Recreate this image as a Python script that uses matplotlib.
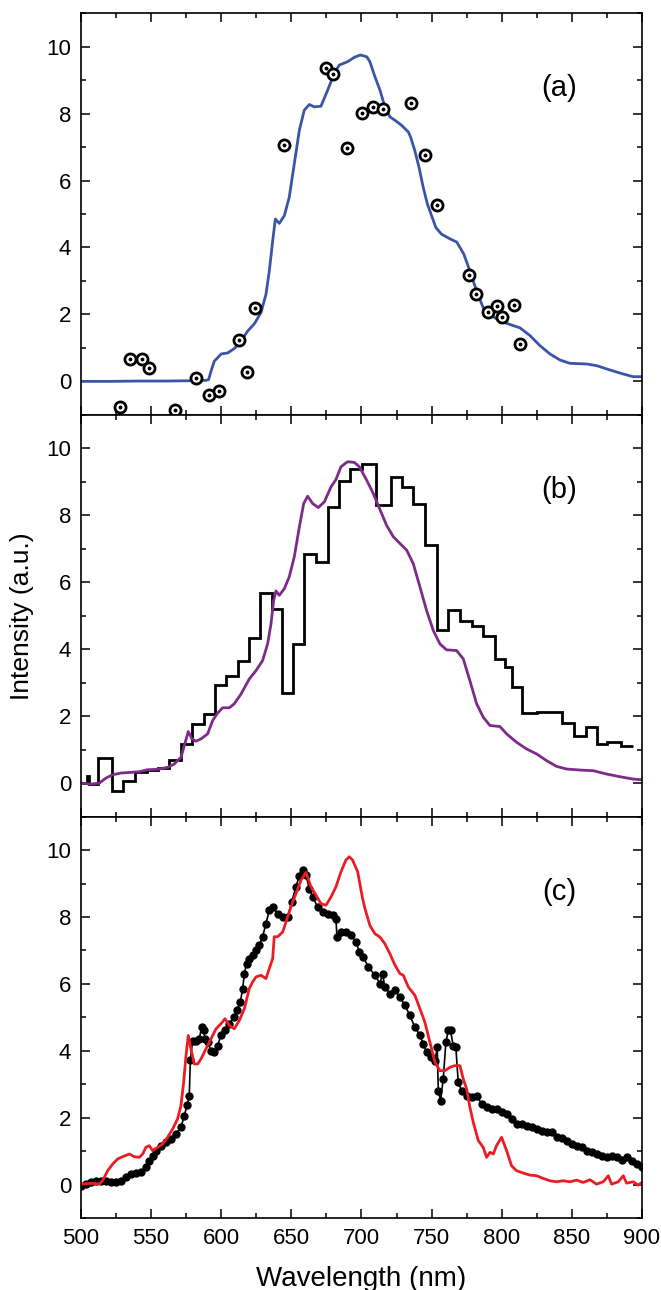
import matplotlib
matplotlib.use("Agg")
import matplotlib.pyplot as plt
from matplotlib.ticker import MultipleLocator

plt.rcParams['font.family'] = ['Liberation Sans', 'DejaVu Sans']

# ---- panel (a): blue spectrum + open circle points ----
blue_wl = [500, 520, 540, 560, 580, 589, 591, 592.7, 595, 600,
           604.6, 609.3, 614, 618.8, 623.6, 628.3, 631.9, 634.3, 636.7, 638.6,
           641.4, 645, 648.5, 652.1, 655.7, 659.2, 662.8, 666.4, 671.1, 675.9,
           680.6, 684.2, 690.1, 694.9, 699.2, 703.7, 706, 709.6, 713.2, 716.7,
           720.3, 723.9, 728.6, 733.4, 735, 738, 741, 744, 747, 750,
           753, 757, 763, 768, 773, 777.3, 782.1, 786.8, 791.6, 798.7,
           805.9, 813, 820.1, 827.2, 834.4, 841.5, 848.6, 860.5, 867.7, 877.2,
           886.7, 893.8, 900]
blue_val = [0.0, 0.0, 0.01, 0.01, 0.02, 0.03, 0.05, 0.3, 0.6, 0.82,
            0.85, 0.98, 1.2, 1.5, 1.72, 2.05, 2.6, 3.3, 4.2, 4.85,
            4.72, 4.95, 5.5, 6.5, 7.5, 8.1, 8.27, 8.2, 8.22, 8.7,
            9.2, 9.45, 9.55, 9.68, 9.75, 9.7, 9.55, 9.1, 8.7, 8.2,
            7.9, 7.8, 7.65, 7.45, 7.3, 6.9, 6.4, 5.8, 5.3, 4.95,
            4.6, 4.4, 4.26, 4.16, 3.8, 3.3, 2.7, 2.2, 2.0, 1.8,
            1.7, 1.6, 1.37, 1.07, 0.82, 0.64, 0.54, 0.52, 0.47, 0.34,
            0.22, 0.14, 0.14]

circ_wl = [528.0, 535.2, 543.5, 548.5, 567.3, 582.0, 591.0, 598.2, 612.4, 618.6,
           624.3, 644.7, 674.4, 679.4, 689.4, 700.6, 707.9, 715.5, 735.0, 745.5,
           754.0, 776.9, 781.4, 789.9, 796.3, 800.2, 808.5, 813.0]
circ_val = [-0.76, 0.67, 0.67, 0.40, -0.85, 0.09, -0.40, -0.28, 1.25, 0.28,
            2.20, 7.05, 9.37, 9.18, 6.98, 8.01, 8.20, 8.15, 8.32, 6.77,
            5.26, 3.19, 2.61, 2.07, 2.25, 1.92, 2.29, 1.12]

# ---- panel (b): binned histogram + purple spectrum ----
hist_edges = [500, 504.5, 505.5, 512.4, 521.9, 530.2, 538.7, 546.8, 555.1, 563.0,
              571.3, 579.1, 587.9, 595.5, 603.4, 611.7, 619.5, 627.9, 635.9, 643.3,
              651.4, 658.8, 667.6, 675.9, 684.2, 692.0, 700.4, 710.1, 720.8, 728.6,
              736.9, 745.2, 753.6, 761.9, 770.2, 779.0, 786.8, 795.2, 802.3, 807.0,
              814.6, 824.9, 843.2, 851.5, 859.8, 867.7, 875.3, 884.8, 893.8]
hist_val = [0.0, 0.22, -0.03, 0.74, -0.25, 0.05, 0.34, 0.40, 0.44, 0.70,
            1.17, 1.77, 2.05, 2.93, 3.21, 3.66, 4.34, 5.69, 5.21, 2.68,
            4.16, 6.83, 6.61, 8.25, 9.02, 9.38, 9.53, 8.32, 9.15, 8.85,
            8.35, 7.10, 4.56, 5.16, 4.83, 4.69, 4.38, 3.71, 3.48, 2.86,
            2.10, 2.12, 1.79, 1.42, 1.67, 1.17, 1.24, 1.12]

purple_wl = [500, 507.1, 513.1, 517.8, 522.6, 528.5, 535.7, 541.6, 547.5, 554.7,
             561.8, 566.5, 571.3, 573.7, 576.5, 579.1, 582, 585.6, 590.3, 593.9,
             597.4, 601, 605.8, 609.3, 614.1, 620, 624.8, 629.5, 633.1, 635.5,
             637.4, 639, 641.4, 645, 648.5, 652.1, 655.7, 658.8, 661.6, 665.2,
             669.2, 673.5, 678.3, 681.8, 685.4, 690.1, 694.9, 698.5, 703.7, 708.4,
             713.2, 717.9, 722.7, 727.4, 732.2, 736.9, 741.7, 746.4, 751.2, 755.9,
             760.7, 767.8, 772.6, 777.3, 782.1, 786.8, 791.6, 798.7, 803.5, 810.6,
             817.7, 824.9, 832, 839.1, 846.3, 855.8, 865.3, 874.8, 884.3, 893.8,
             900]
purple_val = [0.0, -0.03, 0.0, 0.15, 0.25, 0.3, 0.32, 0.34, 0.4, 0.41,
              0.47, 0.57, 0.77, 1.12, 1.54, 1.32, 1.25, 1.32, 1.47, 1.87,
              2.09, 2.25, 2.25, 2.37, 2.66, 3.11, 3.36, 3.66, 4.16, 4.76,
              5.46, 5.74, 5.61, 5.81, 6.16, 6.76, 7.65, 8.35, 8.57, 8.35,
              8.23, 8.4, 8.85, 9.07, 9.45, 9.6, 9.58, 9.45, 9.05, 8.65,
              8.17, 7.7, 7.36, 7.16, 6.96, 6.56, 5.86, 5.16, 4.56, 4.16,
              3.98, 3.96, 3.71, 3.06, 2.37, 1.97, 1.72, 1.69, 1.47, 1.22,
              1.02, 0.87, 0.67, 0.5, 0.42, 0.39, 0.37, 0.27, 0.19, 0.12,
              0.1]

# ---- panel (c): black dotted spectrum + red spectrum ----
black_wl = [500, 503.6, 507.1, 510.7, 514.3, 517.8, 521.4, 525, 528.5, 532.1,
            535.7, 539.2, 542.8, 546.3, 548.7, 551.1, 553.5, 557, 560.6, 564.2,
            567.7, 571.3, 573.7, 575.6, 577.2, 578, 579.6, 582, 584.4, 586,
            587.5, 588.4, 590.3, 592.7, 595.1, 597.4, 599.8, 602.7, 605.8, 608.9,
            611.2, 613.6, 615.3, 616.5, 618.1, 620, 622.4, 624.8, 627.2, 629.5,
            631.9, 634.3, 636.7, 640.2, 643.8, 647.4, 650.2, 653.3, 655.7, 658,
            660.4, 662.8, 665.2, 668.7, 672.3, 675.9, 679.4, 681.8, 682.5, 685.4,
            688.9, 692.5, 696.1, 698.5, 701.3, 704.8, 709.6, 713.2, 715, 716.7,
            720.3, 723.9, 727.4, 731, 734.5, 738.1, 741.7, 744.1, 746.4, 749.3,
            752.4, 754, 754.8, 756.4, 758.3, 760.2, 761.9, 763.5, 765.4, 767.3,
            769, 771.4, 774.9, 778.5, 782.1, 785.7, 789.2, 792.8, 796.3, 799.9,
            803.5, 807, 810.6, 814.2, 817.7, 821.3, 824.9, 828.4, 832, 835.6,
            839.1, 842.7, 846.3, 849.8, 853.4, 857, 860.5, 864.1, 867.6, 871.2,
            874.8, 878.3, 881.9, 885.5, 889, 892.6, 896.2, 899.7]
black_val = [-0.05, 0.02, 0.09, 0.12, 0.1, 0.1, 0.09, 0.09, 0.12, 0.22,
             0.32, 0.35, 0.39, 0.52, 0.72, 0.87, 1.02, 1.17, 1.27, 1.37,
             1.52, 1.72, 2.07, 2.37, 2.66, 3.73, 4.31, 4.31, 4.36, 4.71,
             4.61, 4.36, 4.26, 4.01, 3.96, 4.16, 4.46, 4.61, 4.81, 5.01,
             5.21, 5.46, 5.86, 6.31, 6.61, 6.76, 6.86, 7.01, 7.16, 7.41,
             7.8, 8.2, 8.3, 8.1, 8.0, 8.0, 8.45, 8.9, 9.23, 9.4,
             9.25, 8.85, 8.6, 8.3, 8.15, 8.1, 8.05, 7.95, 7.41, 7.55,
             7.55, 7.45, 7.26, 6.96, 6.81, 6.51, 6.26, 6.01, 6.31, 5.91,
             5.71, 5.81, 5.61, 5.36, 5.06, 4.71, 4.46, 4.21, 3.96, 3.81,
             3.71, 4.11, 2.81, 2.51, 3.16, 4.26, 4.61, 4.61, 4.16, 4.11,
             3.06, 2.81, 2.66, 2.61, 2.66, 2.42, 2.32, 2.27, 2.25, 2.17,
             2.12, 1.97, 1.82, 1.82, 1.77, 1.72, 1.67, 1.62, 1.57, 1.59,
             1.42, 1.39, 1.32, 1.22, 1.17, 1.12, 1.02, 0.97, 0.92, 0.87,
             0.82, 0.87, 0.82, 0.75, 0.82, 0.72, 0.62, 0.54]

red_wl = [500, 504.8, 509.5, 513.1, 515.4, 519, 522.6, 526.1, 529.7, 534.5,
          538, 541.6, 544, 546.3, 548.7, 551.1, 554.7, 558.2, 561.8, 565.4,
          568.9, 571.3, 573.2, 574.9, 576.5, 578.4, 580.8, 583.2, 585.6, 589.1,
          592.7, 596.3, 599.8, 602.7, 605.8, 609.3, 612.9, 616.5, 620, 622.4,
          624.8, 628.3, 631.9, 634.3, 636.7, 637.8, 640.2, 643.8, 646.2, 649.7,
          653.3, 656.9, 660.4, 664, 667.6, 671.1, 674.7, 678.3, 681.8, 685.4,
          688.9, 691.3, 693.7, 697.3, 700.8, 702.5, 706, 709.6, 713.2, 716.7,
          720.3, 723.9, 727.4, 729.8, 733.4, 738.1, 741.7, 745.2, 748.8, 752.4,
          755.9, 759.5, 763.1, 766.6, 770.2, 772.6, 775, 777.3, 779.7, 783.3,
          786.8, 789.2, 791.6, 794, 796.3, 799.9, 803.5, 807, 810.6, 815.4,
          820.1, 824.9, 829.6, 834.4, 839.1, 843.9, 848.6, 853.4, 858.1, 862.9,
          867.6, 872.4, 876, 878.3, 883.1, 886.7, 889, 893.8, 897.3, 900]
red_val = [0.02, 0.04, 0.04, 0.02, 0.12, 0.42, 0.62, 0.77, 0.84, 0.92,
           0.84, 0.82, 0.92, 1.12, 1.17, 1.02, 1.12, 1.22, 1.42, 1.67,
           1.97, 2.37, 3.06, 3.86, 4.46, 4.06, 3.61, 3.61, 3.76, 4.06,
           4.36, 4.66, 4.81, 4.96, 4.76, 4.66, 4.91, 5.26, 5.86, 6.06,
           6.21, 6.26, 6.16, 6.46, 6.76, 7.41, 7.41, 7.55, 7.85, 8.3,
           8.7, 9.1, 9.33, 8.9, 8.65, 8.4, 8.35, 8.6, 8.9, 9.35,
           9.7, 9.8, 9.7, 9.35, 8.55, 8.25, 7.75, 7.5, 7.4, 7.2,
           6.9, 6.56, 6.31, 6.26, 5.91, 5.66, 5.26, 4.86, 4.26, 3.66,
           3.41, 3.41, 3.51, 3.56, 3.56, 3.16, 2.86, 2.32, 1.87, 1.32,
           1.12, 0.82, 0.97, 0.92, 1.17, 1.42, 1.02, 0.57, 0.42, 0.35,
           0.29, 0.27, 0.19, 0.12, 0.09, 0.12, 0.09, 0.14, 0.07, 0.15,
           0.02, 0.09, 0.27, 0.02, 0.09, 0.27, 0.05, 0.09, -0.01, 0.07]

panel_labels = ['(a)', '(b)', '(c)']

fig = plt.figure(figsize=(6.61, 12.9), dpi=100)

left, width = 0.1225, 0.8487
h = 0.3114
bottom0 = 0.0556
axes = []
for i in range(3):
    ax = fig.add_axes([left, bottom0 + (2 - i) * h, width, h])
    axes.append(ax)

for i, ax in enumerate(axes):
    ax.set_xlim(500, 900)
    ax.set_ylim(-1, 11)
    ax.xaxis.set_major_locator(MultipleLocator(50))
    ax.xaxis.set_minor_locator(MultipleLocator(25))
    ax.yaxis.set_major_locator(MultipleLocator(2))
    ax.yaxis.set_minor_locator(MultipleLocator(1))
    ax.tick_params(which='both', direction='in', top=True, right=True,
                   width=1.1, labelsize=16, pad=7)
    ax.tick_params(which='major', length=6.5)
    ax.tick_params(which='minor', length=3.5)
    ax.set_yticks([0, 2, 4, 6, 8, 10])
    for sp in ax.spines.values():
        sp.set_linewidth(1.2)
    if i < 2:
        ax.tick_params(labelbottom=False)
    ax.text(0.852, 0.8125, panel_labels[i], transform=ax.transAxes,
            fontsize=21, ha='center', va='center')

# (a)
ax = axes[0]
ax.plot(blue_wl, blue_val, color='#3a55a6', lw=2.0)
ax.plot(circ_wl, circ_val, linestyle='none', marker='o', markersize=8,
        markerfacecolor='white', markeredgecolor='black', markeredgewidth=2.0)
ax.plot(circ_wl, circ_val, linestyle='none', marker='o', markersize=1.8,
        color='black')

# (b)
ax = axes[1]
ax.stairs(hist_val, hist_edges, baseline=None, color='black', lw=2.0)
ax.plot(purple_wl, purple_val, color='#7d2b88', lw=2.0)
ax.set_ylabel('Intensity (a.u.)', fontsize=19, labelpad=9)

# (c)
ax = axes[2]
ax.plot(black_wl, black_val, color='black', lw=1.2, marker='o', markersize=5)
ax.plot(red_wl, red_val, color='#ec1c24', lw=2.0)
ax.set_xlabel('Wavelength (nm)', fontsize=20, labelpad=12)

fig.savefig('out.png', dpi=100)
